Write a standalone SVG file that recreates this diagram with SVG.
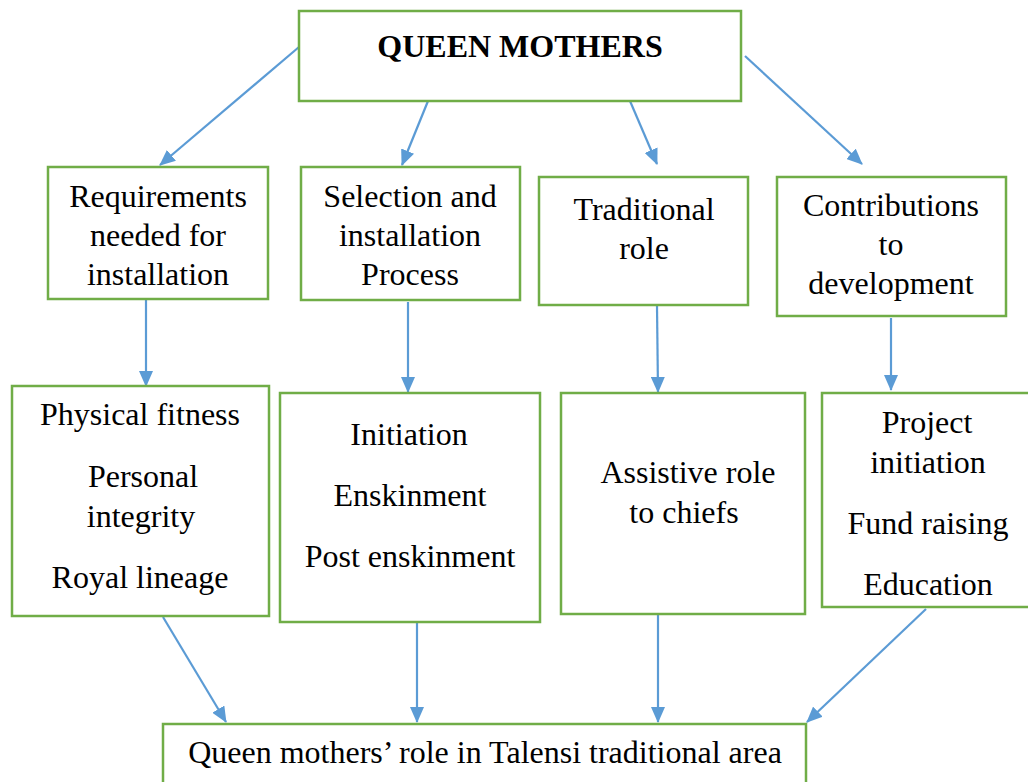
<svg xmlns="http://www.w3.org/2000/svg" width="1028" height="782" viewBox="0 0 1028 782">
<style>
.box{fill:#fff;stroke:#70AD47;stroke-width:2.5}
.t{font-family:"Liberation Serif","Times New Roman",serif;font-size:32px;fill:#000;text-anchor:middle}
.b{font-weight:bold}
.c{stroke:#5B9BD5;stroke-width:2.2;fill:none;marker-end:url(#ah)}
</style>
<defs>
<marker id="ah" markerUnits="userSpaceOnUse" markerWidth="16" markerHeight="14" refX="15" refY="7" orient="auto">
<path d="M0,0 L16,7 L0,14 Z" fill="#5B9BD5"/>
</marker>
</defs>
<rect width="1028" height="782" fill="#fff"/>
<g id="connectors">
<line class="c" x1="299" y1="47" x2="160" y2="165"/>
<line class="c" x1="428" y1="101" x2="402" y2="165"/>
<line class="c" x1="630" y1="101" x2="657" y2="164"/>
<line class="c" x1="745" y1="56" x2="862" y2="164"/>
<line class="c" x1="146" y1="300" x2="146" y2="386"/>
<line class="c" x1="408" y1="302" x2="408" y2="392"/>
<line class="c" x1="657" y1="306" x2="658" y2="392"/>
<line class="c" x1="891" y1="318" x2="891" y2="390"/>
<line class="c" x1="163" y1="617" x2="226" y2="722"/>
<line class="c" x1="417" y1="623" x2="417" y2="722"/>
<line class="c" x1="658" y1="615" x2="658" y2="722"/>
<line class="c" x1="926" y1="609" x2="807" y2="722"/>
</g>
<g id="top"><rect class="box" x="299" y="11" width="442" height="90"/><text class="t b" x="520" y="57">QUEEN MOTHERS</text></g>
<g id="req"><rect class="box" x="48" y="167" width="220" height="132"/><text class="t" x="158" y="207">Requirements</text><text class="t" x="158" y="246">needed for</text><text class="t" x="158" y="285">installation</text></g>
<g id="sel"><rect class="box" x="301" y="167" width="219" height="133"/><text class="t" x="410" y="207">Selection and</text><text class="t" x="410" y="246">installation</text><text class="t" x="410" y="285">Process</text></g>
<g id="trad"><rect class="box" x="539" y="177" width="209" height="128"/><text class="t" x="644" y="220">Traditional</text><text class="t" x="644" y="259">role</text></g>
<g id="contrib"><rect class="box" x="777" y="177" width="229" height="139"/><text class="t" x="891" y="216">Contributions</text><text class="t" x="891" y="255">to</text><text class="t" x="891" y="294">development</text></g>
<g id="reqlist"><rect class="box" x="12" y="386" width="257" height="230"/><text class="t" x="140" y="425">Physical fitness</text><text class="t" x="143" y="487">Personal</text><text class="t" x="141" y="527">integrity</text><text class="t" x="140" y="588">Royal lineage</text></g>
<g id="sellist"><rect class="box" x="280" y="393" width="260" height="229"/><text class="t" x="409" y="445">Initiation</text><text class="t" x="410" y="506">Enskinment</text><text class="t" x="410" y="567">Post enskinment</text></g>
<g id="tradlist"><rect class="box" x="561" y="393" width="244" height="221"/><text class="t" x="688" y="483">Assistive role</text><text class="t" x="684" y="523">to chiefs</text></g>
<g id="contriblist"><rect class="box" x="822" y="393" width="210" height="214"/><text class="t" x="927" y="433">Project</text><text class="t" x="928" y="473">initiation</text><text class="t" x="928" y="534">Fund raising</text><text class="t" x="928" y="595">Education</text></g>
<g id="bottom"><rect class="box" x="163" y="724" width="643" height="70"/><text class="t" x="485" y="763">Queen mothers’ role in Talensi traditional area</text></g>
</svg>
